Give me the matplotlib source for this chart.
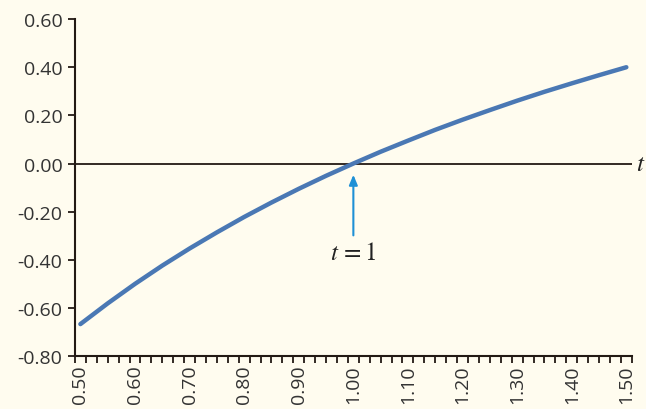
import numpy as np
import matplotlib
matplotlib.use("Agg")
import matplotlib.pyplot as plt
from matplotlib.ticker import FixedLocator

# values
t_vals = [0.50, 0.55, 0.60, 0.65, 0.70, 0.75, 0.80, 0.85, 0.90, 0.95, 1.00,
          1.05, 1.10, 1.15, 1.20, 1.25, 1.30, 1.35, 1.40, 1.45, 1.50]
y_vals = [-0.667, -0.581, -0.500, -0.424, -0.353, -0.286, -0.222, -0.162, -0.105, -0.051, 0.0,
          0.049, 0.095, 0.140, 0.182, 0.222, 0.261, 0.298, 0.333, 0.367, 0.400]
x_labels = ["0.50", "0.60", "0.70", "0.80", "0.90", "1.00",
            "1.10", "1.20", "1.30", "1.40", "1.50"]
y_labels = ["-0.80", "-0.60", "-0.40", "-0.20", "0.00", "0.20", "0.40", "0.60"]

bg = "#fffcef"
txt = "#333333"
dark = "#231a14"

plt.rcParams['font.family'] = ['Open Sans', 'DejaVu Sans']
plt.rcParams['mathtext.fontset'] = 'stix'

fig = plt.figure(figsize=(6.46, 4.10), dpi=100, facecolor=bg)
ax = fig.add_axes([0.116, 0.129, 0.862, 0.822])
ax.set_facecolor(bg)

ax.plot(t_vals, y_vals, color="#4a78b4", lw=3.2, solid_capstyle="round", zorder=3)
ax.axhline(0, color=dark, lw=1.3, zorder=2)

# category-style axis: 0.02 steps, ticks between categories
ax.set_xlim(0.49, 1.51)
ax.set_ylim(-0.80, 0.60)

ax.set_xticks([float(s) for s in x_labels])
ax.set_xticklabels(x_labels, rotation=90)
ax.xaxis.set_minor_locator(FixedLocator(np.arange(0.49, 1.515, 0.02)))
ax.set_yticks([float(s) for s in y_labels])
ax.set_yticklabels(y_labels)

ax.tick_params(axis="x", which="major", length=0, pad=6)
ax.tick_params(axis="x", which="minor", direction="out", length=5, width=1.3, color=dark)
ax.tick_params(axis="y", direction="out", length=5, width=1.3, color=dark, pad=4)
ax.tick_params(axis="both", which="major", labelcolor=txt, labelsize=14)

for side in ["top", "right"]:
    ax.spines[side].set_visible(False)
for side in ["left", "bottom"]:
    ax.spines[side].set_color(dark)
    ax.spines[side].set_linewidth(1.5)

# arrow marking t = 1
ax.annotate("", xy=(1.0, -0.035), xytext=(1.0, -0.31),
            arrowprops=dict(arrowstyle="-|>,head_length=0.6,head_width=0.25",
                            color="#1e90d6", lw=1.5))
ax.text(1.0, -0.37, "$t\\,=1$", ha="center", va="center", fontsize=18, color="#222222")
ax.text(1.527, 0.0, "$t$", ha="center", va="center", fontsize=18, color="#222222",
        clip_on=False)

fig.savefig("out.png", dpi=100, facecolor=bg)
